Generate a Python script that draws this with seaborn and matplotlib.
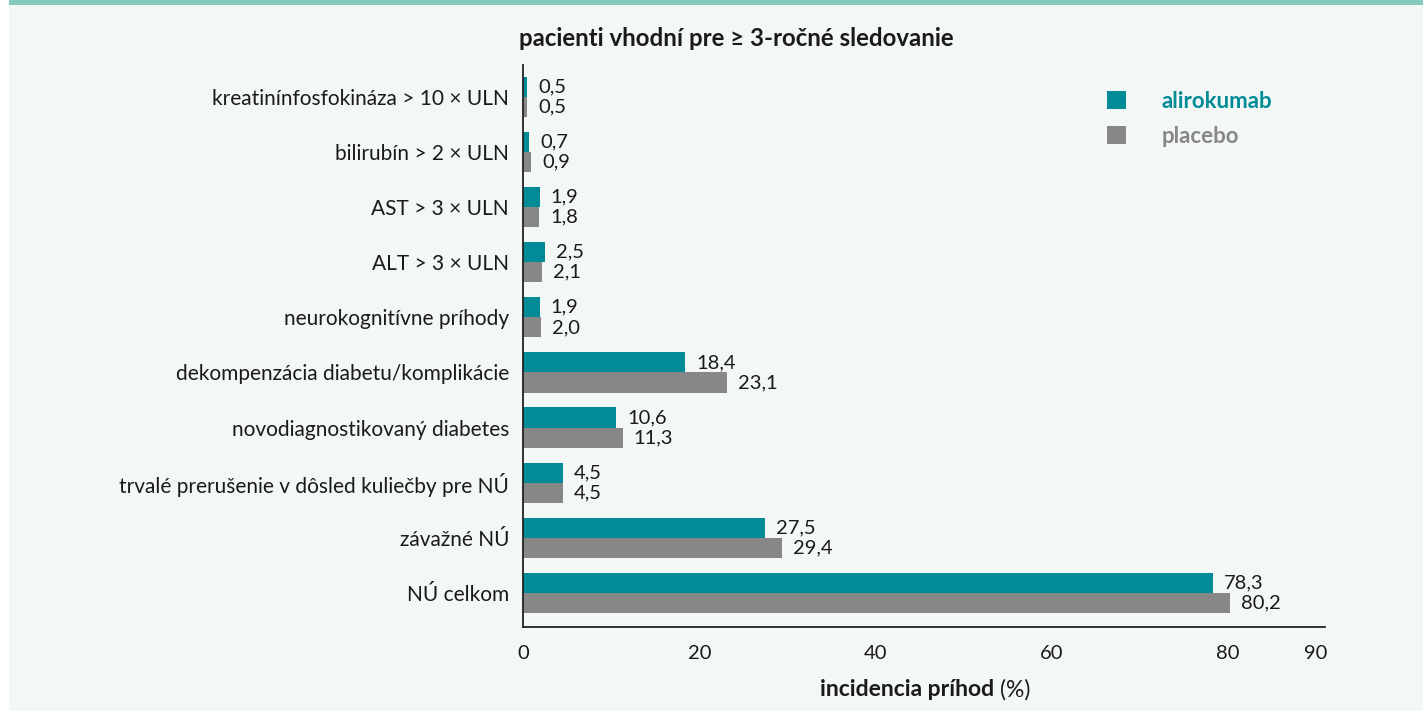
import matplotlib
matplotlib.use("Agg")
import matplotlib.pyplot as plt
import matplotlib.patches as mpatches
import seaborn as sns
import pandas as pd

categories = [
    "kreatinínfosfokináza > 10 × ULN",
    "bilirubín > 2 × ULN",
    "AST > 3 × ULN",
    "ALT > 3 × ULN",
    "neurokognitívne príhody",
    "dekompenzácia diabetu/komplikácie",
    "novodiagnostikovaný diabetes",
    "trvalé prerušenie v dôsled kuliečby pre NÚ",
    "závažné NÚ",
    "NÚ celkom",
]
alirokumab = [0.5, 0.7, 1.9, 2.5, 1.9, 18.4, 10.6, 4.5, 27.5, 78.3]
placebo = [0.5, 0.9, 1.8, 2.1, 2.0, 23.1, 11.3, 4.5, 29.4, 80.2]
series_names = ["alirokumab", "placebo"]
x_ticks = [0, 20, 40, 60, 80, 90]

TEAL = "#008b96"
GRAY = "#878787"
BG = "#f3f7f6"
STRIP = "#84cabd"
TXT = "#1a1a1a"

df = pd.DataFrame({
    "kategória": categories * 2,
    "hodnota": alirokumab + placebo,
    "skupina": [series_names[0]] * len(categories) + [series_names[1]] * len(categories),
})

sns.set_style("white")
plt.rcParams["font.family"] = ["Lato", "DejaVu Sans"]

fig = plt.figure(figsize=(14.23, 7.11), dpi=100)
fig.patch.set_facecolor("white")
fig.patches.append(mpatches.Rectangle((9 / 1423, 0), 1 - 9 / 1423, 1, transform=fig.transFigure,
                                      facecolor=BG, edgecolor="none", zorder=-10))
fig.patches.append(mpatches.Rectangle((9 / 1423, 1 - 5 / 711), 1 - 9 / 1423, 5 / 711, transform=fig.transFigure,
                                      facecolor=STRIP, edgecolor="none", zorder=-9))

ax = fig.add_axes([523 / 1423, 84 / 711, 802 / 1423, 562 / 711])
ax.set_facecolor("none")

sns.barplot(data=df, y="kategória", x="hodnota", hue="skupina", order=categories,
            hue_order=series_names, palette=[TEAL, GRAY], orient="h", width=0.73,
            saturation=1, ax=ax, legend=False, linewidth=0, edgecolor="none")

for cont in ax.containers:
    ax.bar_label(cont, labels=[f"{v.get_width():.1f}".replace(".", ",") for v in cont],
                 padding=8, fontsize=14.5, color=TXT)

ax.set_xlim(0, 91)
ax.set_ylim(9.62, -0.58)
ax.set_xticks(x_ticks)
ax.set_xticklabels([str(t) for t in x_ticks])
ax.set_xlabel("")
ax.set_ylabel("")
ax.tick_params(axis="x", length=7, width=1, color="#222222", labelsize=14.5, labelcolor=TXT, pad=6, direction="out")
ax.tick_params(axis="y", length=0, labelsize=15, labelcolor=TXT, pad=10)
for s in ["top", "right"]:
    ax.spines[s].set_visible(False)
for s in ["left", "bottom"]:
    ax.spines[s].set_color("#222222")
    ax.spines[s].set_linewidth(1.3)

fig.text(736 / 1423, 1 - 38 / 711, "pacienti vhodní pre ≥ 3-ročné sledovanie",
         ha="center", va="center", fontsize=17.3, fontweight="bold", color=TXT)

# x label with mixed weight
y_lab = 1 - 690 / 711
t1 = fig.text(0, y_lab, "incidencia príhod ", ha="left", va="center", fontsize=16.5, fontweight="bold", color=TXT)
t2 = fig.text(0, y_lab, "(%)", ha="left", va="center", fontsize=16.5, color=TXT)
fig.canvas.draw()
r = fig.canvas.get_renderer()
w1 = t1.get_window_extent(r).width / fig.bbox.width
w2 = t2.get_window_extent(r).width / fig.bbox.width
cx = 925 / 1423
start = cx - (w1 + w2) / 2
t1.set_x(start)
t2.set_x(start + w1)

handles = [mpatches.Patch(facecolor=TEAL, edgecolor="none"), mpatches.Patch(facecolor=GRAY, edgecolor="none")]
leg = fig.legend(handles, series_names, loc="upper left", bbox_to_anchor=(1107 / 1423, 1 - 91 / 711),
                 frameon=False, fontsize=16, handlelength=0.86, handleheight=0.86,
                 handletextpad=1.6, labelspacing=0.62, borderpad=0, borderaxespad=0)
for txt, c in zip(leg.get_texts(), [TEAL, GRAY]):
    txt.set_color(c)
    txt.set_fontweight("bold")

fig.savefig("out.png", dpi=100, facecolor=fig.get_facecolor())
